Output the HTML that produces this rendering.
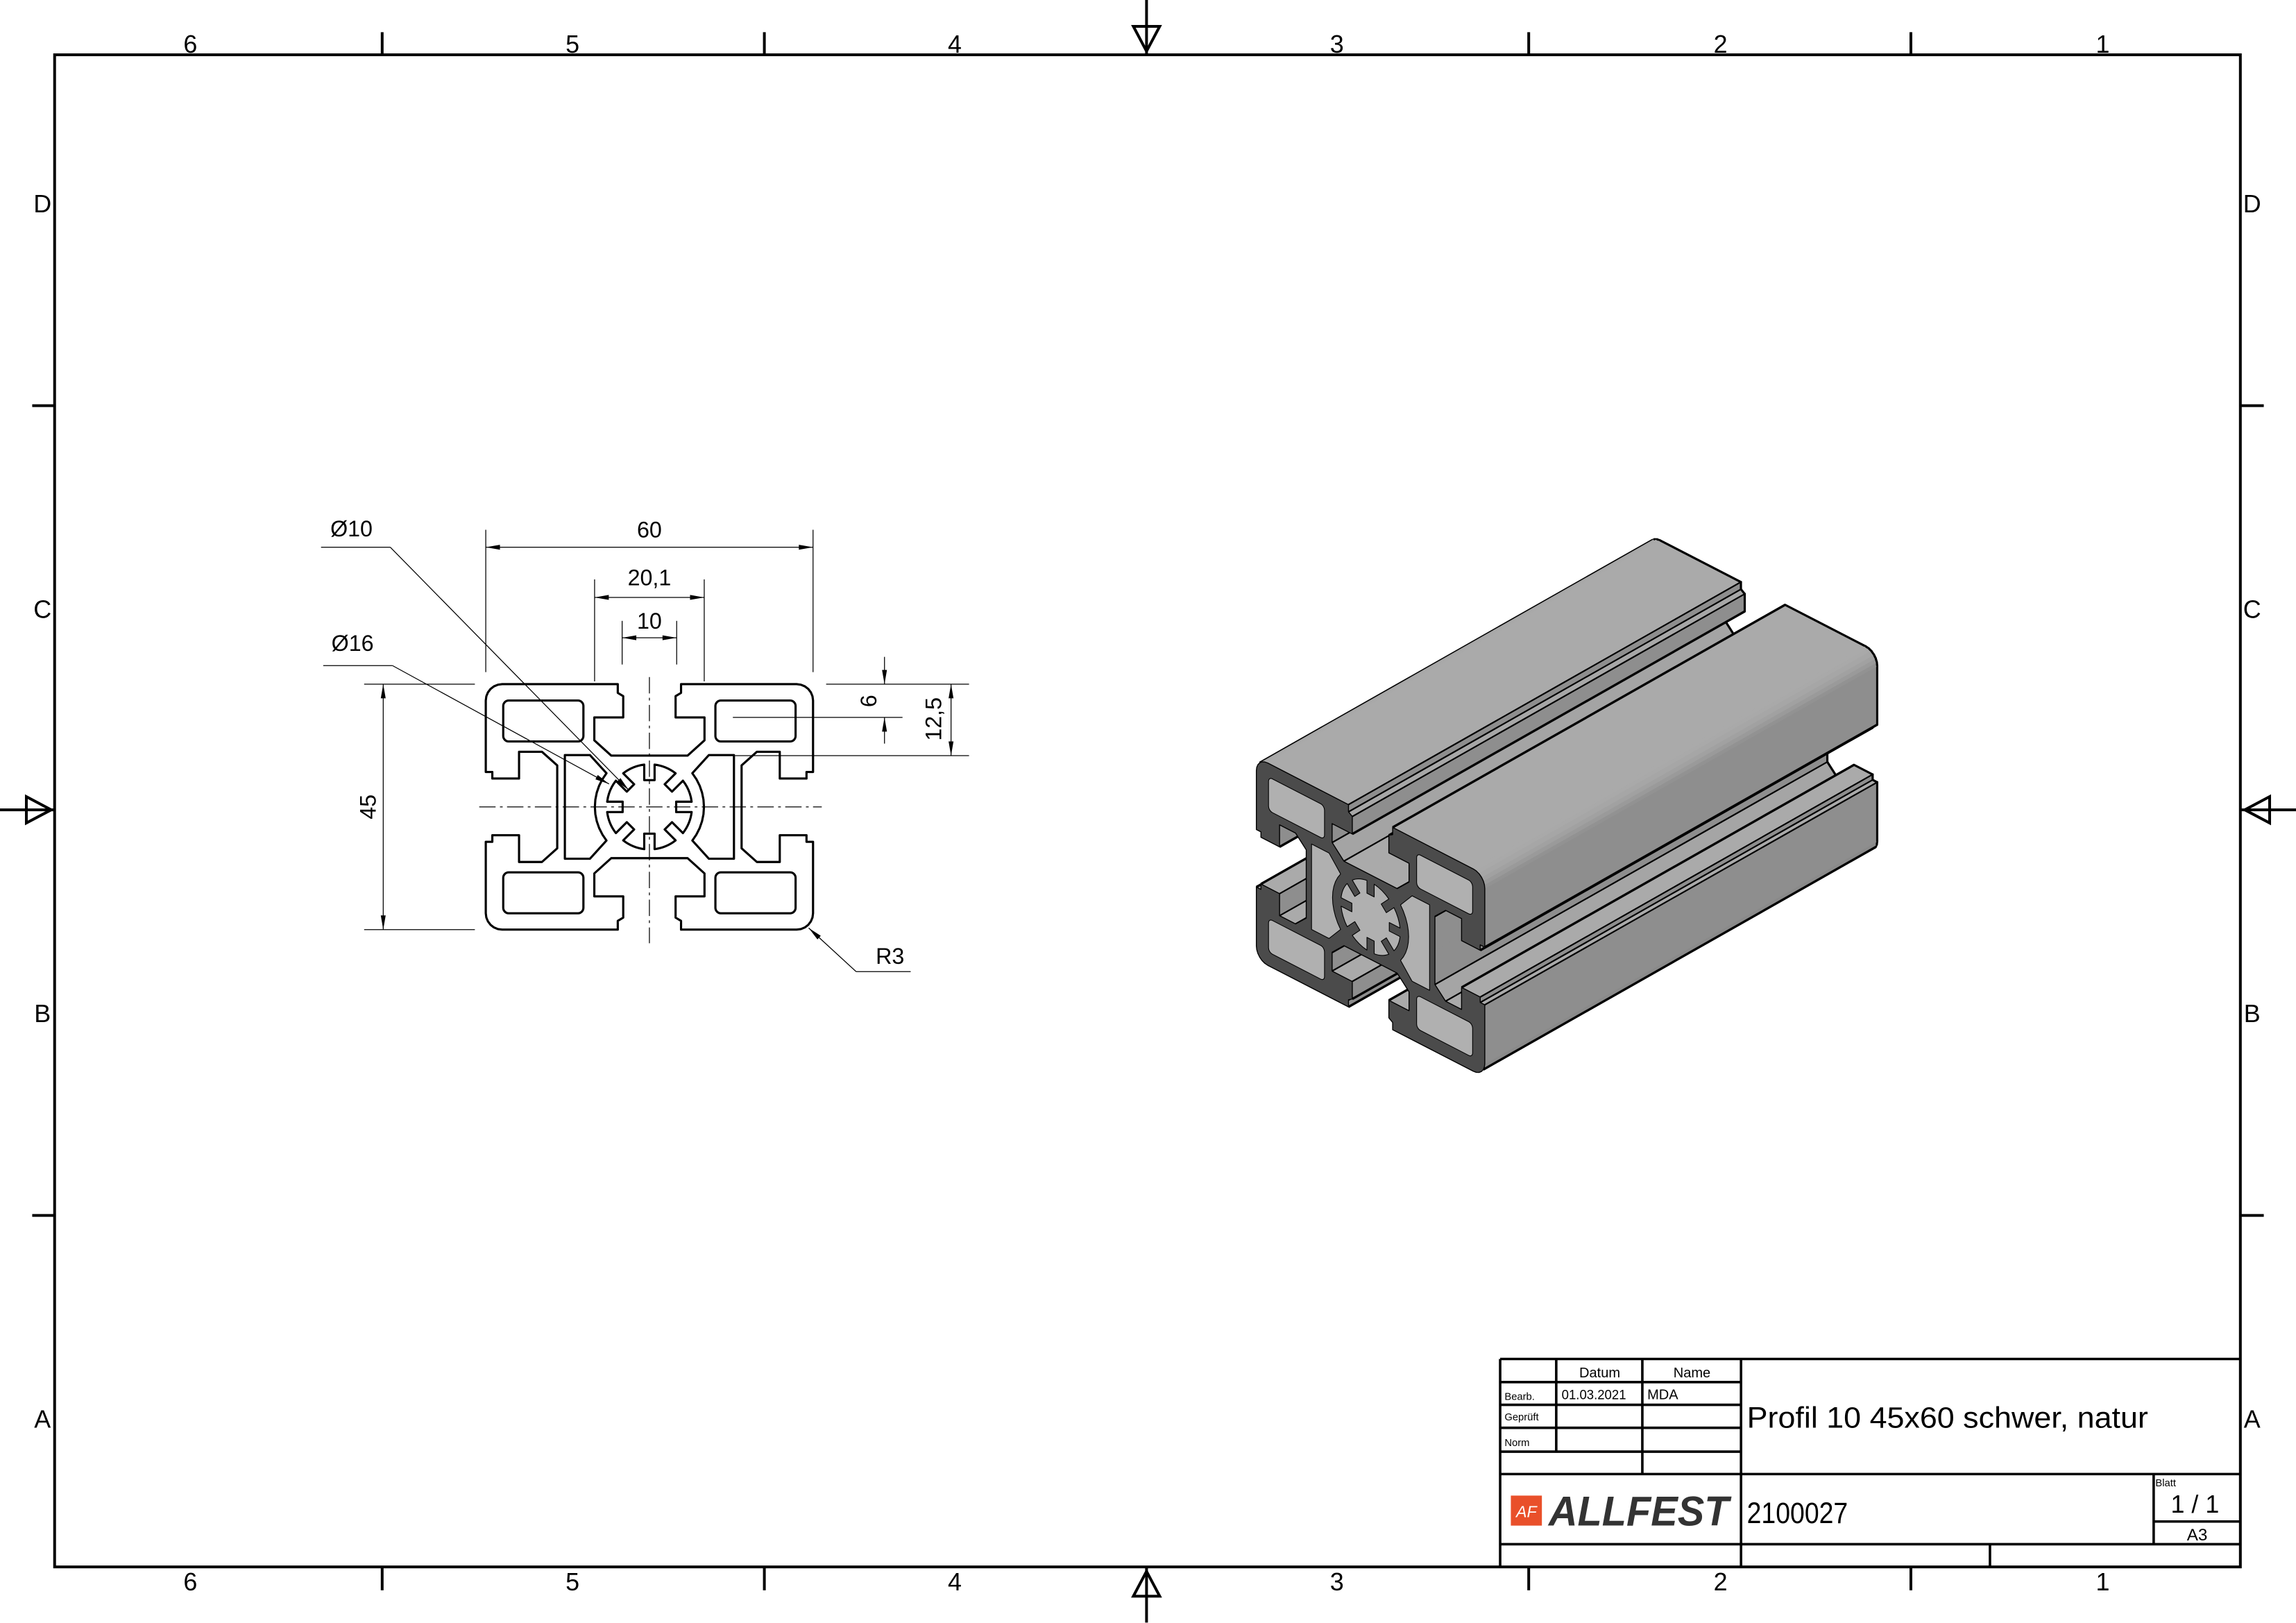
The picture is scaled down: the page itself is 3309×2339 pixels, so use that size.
<!DOCTYPE html>
<html><head><meta charset="utf-8"><style>
html,body{margin:0;padding:0;background:#fff;}
svg{display:block;}
text{font-family:"Liberation Sans",sans-serif;}
</style></head><body>
<svg id="s" xmlns="http://www.w3.org/2000/svg" width="3309" height="2339" viewBox="0 0 1568 1108.3" preserveAspectRatio="none">
<rect x="0" y="0" width="1568" height="1108.3" fill="#fff"/>
<g stroke="#000" stroke-width="1.9" fill="none">
<rect x="37.3" y="37.4" width="1492.7" height="1032.6"/>
<path d="M261 22V37.4M522 22V37.4M1044 22V37.4M1305 22V37.4M261 1070V1086M522 1070V1086M1044 1070V1086M1305 1070V1086M22 277H37.3M22 830H37.3M1530 277H1546M1530 830H1546"/>
<path d="M783 0V37.4M783 1070V1108M0 553H37.3M1530 553H1568"/>
<path d="M774 18H792L783 35ZM774 1090H792L783 1073ZM18 544V562L35 553ZM1550 544V562L1533 553Z"/>
</g>
<g font-size="17" text-anchor="middle" fill="#000">
<text x="130" y="36">6</text><text x="391" y="36">5</text><text x="652" y="36">4</text><text x="913" y="36">3</text><text x="1175" y="36">2</text><text x="1436" y="36">1</text>
<text x="130" y="1086">6</text><text x="391" y="1086">5</text><text x="652" y="1086">4</text><text x="913" y="1086">3</text><text x="1175" y="1086">2</text><text x="1436" y="1086">1</text>
<text x="29" y="145">D</text><text x="29" y="422">C</text><text x="29" y="698">B</text><text x="29" y="975">A</text>
<text x="1538" y="145">D</text><text x="1538" y="422">C</text><text x="1538" y="698">B</text><text x="1538" y="975">A</text>
</g>
<g stroke="#000" stroke-width="1.7" fill="none">
<path d="M1024.5 928H1530M1024.5 928V1070M1189 928V1070M1062.8 928V991.3M1121.6 928V1006.6M1024.5 943.8H1189M1024.5 959.3H1189M1024.5 975H1189M1024.5 991.3H1189M1024.5 1006.6H1530M1470.8 1006.6V1054.5M1470.8 1039H1530M1024.5 1054.5H1530M1359 1054.5V1070"/>
</g>
<g fill="#000">
<text x="1092.5" y="940.5" font-size="9.5" text-anchor="middle">Datum</text>
<text x="1155.5" y="940.5" font-size="9.5" text-anchor="middle">Name</text>
<text x="1027.5" y="956" font-size="7">Bearb.</text>
<text x="1066.5" y="955.5" font-size="9" textLength="44" lengthAdjust="spacingAndGlyphs">01.03.2021</text>
<text x="1125" y="955.5" font-size="9.5">MDA</text>
<text x="1027.5" y="970" font-size="7">Geprüft</text>
<text x="1027.5" y="987.5" font-size="7">Norm</text>
<text x="1193" y="975" font-size="20" textLength="274" lengthAdjust="spacingAndGlyphs">Profil 10 45x60 schwer, natur</text>
<text x="1193" y="1040" font-size="20" textLength="69" lengthAdjust="spacingAndGlyphs">2100027</text>
<text x="1472" y="1015" font-size="7">Blatt</text>
<text x="1499" y="1033" font-size="17" text-anchor="middle">1 / 1</text>
<text x="1500.5" y="1052" font-size="11.5" text-anchor="middle">A3</text>
<rect x="1031.8" y="1021.3" width="21.2" height="20.5" fill="#e9502a"/>
<text x="1042.4" y="1036" font-size="11" font-style="italic" fill="#fff" text-anchor="middle">AF</text>
<text x="1057.6" y="1041.8" font-size="28.5" font-weight="bold" font-style="italic" fill="#333" textLength="123" lengthAdjust="spacingAndGlyphs">ALLFEST</text>
</g>
<g id="g3d"></g>
<g id="g2d" transform="translate(443.5 551) scale(3.725)"></g>
</svg>
<script>
const NS="http://www.w3.org/2000/svg";
function el(t,a,p,tx){const e=document.createElementNS(NS,t);for(const k in a)e.setAttribute(k,a[k]);if(tx!=null)e.textContent=tx;p.appendChild(e);return e;}
function arc(cx,cy,r,a0,a1,n){const o=[];for(let i=0;i<=n;i++){const a=(a0+(a1-a0)*i/n)*Math.PI/180;o.push([cx+r*Math.cos(a),cy+r*Math.sin(a)]);}return o;}
const Q=[[0,-9.4],[-7,-9.4],[-10.1,-12.2],[-10.1,-16.4],[-4.8,-16.4],[-4.8,-20.3],[-5.8,-20.9],[-5.8,-22.5]].concat(arc(-27,-19.5,3,-90,-180,6),[[-30,-6.4],[-28.8,-6.4],[-28.8,-5.2],[-23.9,-5.2],[-23.9,-10.1],[-19.7,-10.1],[-16.9,-7.6],[-16.9,0]]);
const rev=a=>a.slice().reverse();
let P=Q.concat(rev(Q).map(([x,y])=>[x,-y]),Q.map(([x,y])=>[-x,-y]),rev(Q).map(([x,y])=>[-x,y]));
const P2=[];for(const p of P){const l=P2[P2.length-1];if(!l||Math.hypot(l[0]-p[0],l[1]-p[1])>1e-6)P2.push(p);}
if(Math.hypot(P2[0][0]-P2[P2.length-1][0],P2[0][1]-P2[P2.length-1][1])<1e-6)P2.pop();
P=P2;
const pd=pts=>"M"+pts.map(p=>p[0].toFixed(3)+" "+p[1].toFixed(3)).join("L")+"Z";
function rrect(x0,y0,x1,y1,r){return `M${x0+r} ${y0}H${x1-r}A${r} ${r} 0 0 1 ${x1} ${y0+r}V${y1-r}A${r} ${r} 0 0 1 ${x1-r} ${y1}H${x0+r}A${r} ${r} 0 0 1 ${x0} ${y1-r}V${y0+r}A${r} ${r} 0 0 1 ${x0+r} ${y0}Z`;}
const cav=[rrect(-26.8,-19.5,-12.1,-12,1),rrect(12.1,-19.5,26.8,-12,1),rrect(-26.8,12,-12.1,19.5,1),rrect(12.1,12,26.8,19.5,1)];
function side(sg){const a=arc(0,0,10,180-38.1,180+38.1,10).map(([x,y])=>[x,-y]);let pts=[[-15.5,-9.5],[-10.9,-9.5]].concat(rev(a).map(([x,y])=>[x,y]).sort((p,q)=>p[1]-q[1]),[[-10.9,9.5],[-15.5,9.5]]);return pts.map(([x,y])=>[x*sg,y]);}
cav.push(pd(side(1)),pd(side(-1)));
function star(){let d="";const ro=7.8,ri=5,w=0.95;const ao=Math.asin(w/ro),ai=Math.asin(w/ri);for(let k=0;k<8;k++){const t=k*Math.PI/4;const pts=[[ro,t-ao],[ri,t-ai],[ri,t+ai],[ro,t+ao]].map(([r,a])=>[r*Math.cos(a),r*Math.sin(a)]);if(k==0)d+=`M${pts[0][0]} ${pts[0][1]}`;else d+=`A${ro} ${ro} 0 0 1 ${pts[0][0]} ${pts[0][1]}`;d+=`L${pts[1][0]} ${pts[1][1]}L${pts[2][0]} ${pts[2][1]}L${pts[3][0]} ${pts[3][1]}`;}const a0=-ao;d+=`A${ro} ${ro} 0 0 1 ${ro*Math.cos(a0)} ${ro*Math.sin(a0)}Z`;return d;}
cav.push(star());

const g2=document.getElementById("g2d");
el("path",{d:pd(P),fill:"#fff",stroke:"#000","stroke-width":0.4,"stroke-linejoin":"round"},g2);
for(const c of cav)el("path",{d:c,fill:"#fff",stroke:"#000","stroke-width":0.4,"stroke-linejoin":"round"},g2);
const th=0.16;
function L(x1,y1,x2,y2,w){el("line",{x1,y1,x2,y2,stroke:"#000","stroke-width":w||th},g2);}
function A(tx,ty,dx,dy){const l=Math.hypot(dx,dy);dx/=l;dy/=l;const Ln=2.6,W=0.45;const bx=tx-dx*Ln,by=ty-dy*Ln;el("path",{d:`M${tx} ${ty}L${bx-dy*W} ${by+dx*W}L${bx+dy*W} ${by-dx*W}Z`,fill:"#000"},g2);}
function T(x,y,s,rot,anchor){const a={x,y,"font-size":4.1,"text-anchor":anchor||"middle",fill:"#000"};if(rot)a.transform=`rotate(-90 ${x} ${y})`;el("text",a,g2,s);}
el("line",{x1:-31.2,y1:0,x2:31.6,y2:0,stroke:"#000","stroke-width":th,"stroke-dasharray":"3 0.8 0.5 0.8"},g2);
el("line",{x1:0,y1:-23.8,x2:0,y2:25,stroke:"#000","stroke-width":th,"stroke-dasharray":"3 0.8 0.5 0.8"},g2);
L(-30,-50.8,-30,-24.7);L(30,-50.8,30,-24.7);L(-30,-47.6,30,-47.6);A(-30,-47.6,-1,0);A(30,-47.6,1,0);T(0,-49.4,"60");
L(-10.05,-41.7,-10.05,-23);L(10.05,-41.7,10.05,-23);L(-10.05,-38.4,10.05,-38.4);A(-10.05,-38.4,-1,0);A(10.05,-38.4,1,0);T(0,-40.6,"20,1");
L(-5,-34.1,-5,-26.1);L(5,-34.1,5,-26.1);L(-5,-31,5,-31);A(-5,-31,-1,0);A(5,-31,1,0);T(0,-32.7,"10");
L(-52.3,-22.5,-32,-22.5);L(-52.3,22.5,-32,22.5);L(-48.8,-22.5,-48.8,22.5);A(-48.8,-22.5,0,-1);A(-48.8,22.5,0,1);T(-50.2,0,"45",true);
L(32.4,-22.5,58.6,-22.5);L(15.7,-9.4,58.6,-9.4);L(15.3,-16.4,46.4,-16.4);
L(43.1,-27.5,43.1,-22.5);A(43.1,-22.5,0,1);L(43.1,-16.4,43.1,-11.6);A(43.1,-16.4,0,-1);T(41.6,-19.4,"6",true);
L(55.3,-22.5,55.3,-9.4);A(55.3,-22.5,0,-1);A(55.3,-9.4,0,1);T(53.5,-16.1,"12,5",true);
L(-60.2,-47.6,-47.5,-47.6);L(-47.5,-47.6,-3.8,-3.1);A(-3.8,-3.1,43.7,44.5);T(-58.5,-49.6,"Ø10",false,"start");
L(-59.8,-25.9,-47.1,-25.9);L(-47.1,-25.9,-7.4,-4.2);A(-7.4,-4.2,39.7,21.7);T(-58.3,-28.6,"Ø16",false,"start");
L(37.9,30.2,47.9,30.2);L(37.9,30.2,29.2,22.2);A(29.2,22.2,-8.7,-8);T(41.5,28.8,"R3",false,"start");

const g3=document.getElementById("g3d");
const S=(px,py,t)=>[936+2.6*px+268*t,626.3+1.34*px+3.07*py-152*t];
const n=P.length;const edges=[];
for(let i=0;i<n;i++){const p=P[i],q=P[(i+1)%n];const dx=q[0]-p[0],dy=q[1]-p[1],l=Math.hypot(dx,dy);const nx=-dy/l,ny=dx/l;edges.push({i,p,q,nx,ny,vis:nx*0.5-ny*0.6>0.05});}
const pts=a=>a.map(p=>p[0].toFixed(2)+","+p[1].toFixed(2)).join(" ");
const vis=edges.filter(e=>e.vis).map(e=>({...e,depth:(e.p[0]+e.q[0])/2*0.5-(e.p[1]+e.q[1])/2*0.6}));
vis.sort((a,b)=>a.depth-b.depth);
function crease(i){const e1=edges[(i-1+n)%n],e2=edges[i];return (e1.nx*e2.nx+e1.ny*e2.ny)<0.92;}
for(const e of vis){
 let lum=138+32*(-e.ny)+4*e.nx; lum=Math.max(110,Math.min(185,Math.round(lum)));
 const c=`rgb(${lum},${lum},${lum})`;
 const a=S(e.p[0],e.p[1],0),b=S(e.q[0],e.q[1],0),c1=S(e.q[0],e.q[1],1),d1=S(e.p[0],e.p[1],1);
 el("polygon",{points:pts([a,b,c1,d1]),fill:c,stroke:c,"stroke-width":0.6},g3);
 const j=(e.i+1)%n;
 const prevVis=edges[(e.i-1+n)%n].vis,nextVis=edges[j].vis;
 if(crease(e.i)||!prevVis)el("line",{x1:a[0],y1:a[1],x2:d1[0],y2:d1[1],stroke:"#000","stroke-width":prevVis?1:1.6},g3);
 if(crease(j)||!nextVis)el("line",{x1:b[0],y1:b[1],x2:c1[0],y2:c1[1],stroke:"#000","stroke-width":nextVis?1:1.6},g3);
 el("line",{x1:d1[0],y1:d1[1],x2:c1[0],y2:c1[1],stroke:"#000","stroke-width":1.5,"stroke-linecap":"round"},g3);
}
const gf=el("g",{transform:"matrix(2.6 1.34 0 3.07 936 626.3)"},g3);
el("path",{d:pd(P),fill:"#4b4b4b",stroke:"#000","stroke-width":1.4,"vector-effect":"non-scaling-stroke","stroke-linejoin":"round"},gf);
for(const c of cav)el("path",{d:c,fill:"#b0b0b0",stroke:"#000","stroke-width":1.1,"vector-effect":"non-scaling-stroke","stroke-linejoin":"round"},gf);
</script>
</body></html>
